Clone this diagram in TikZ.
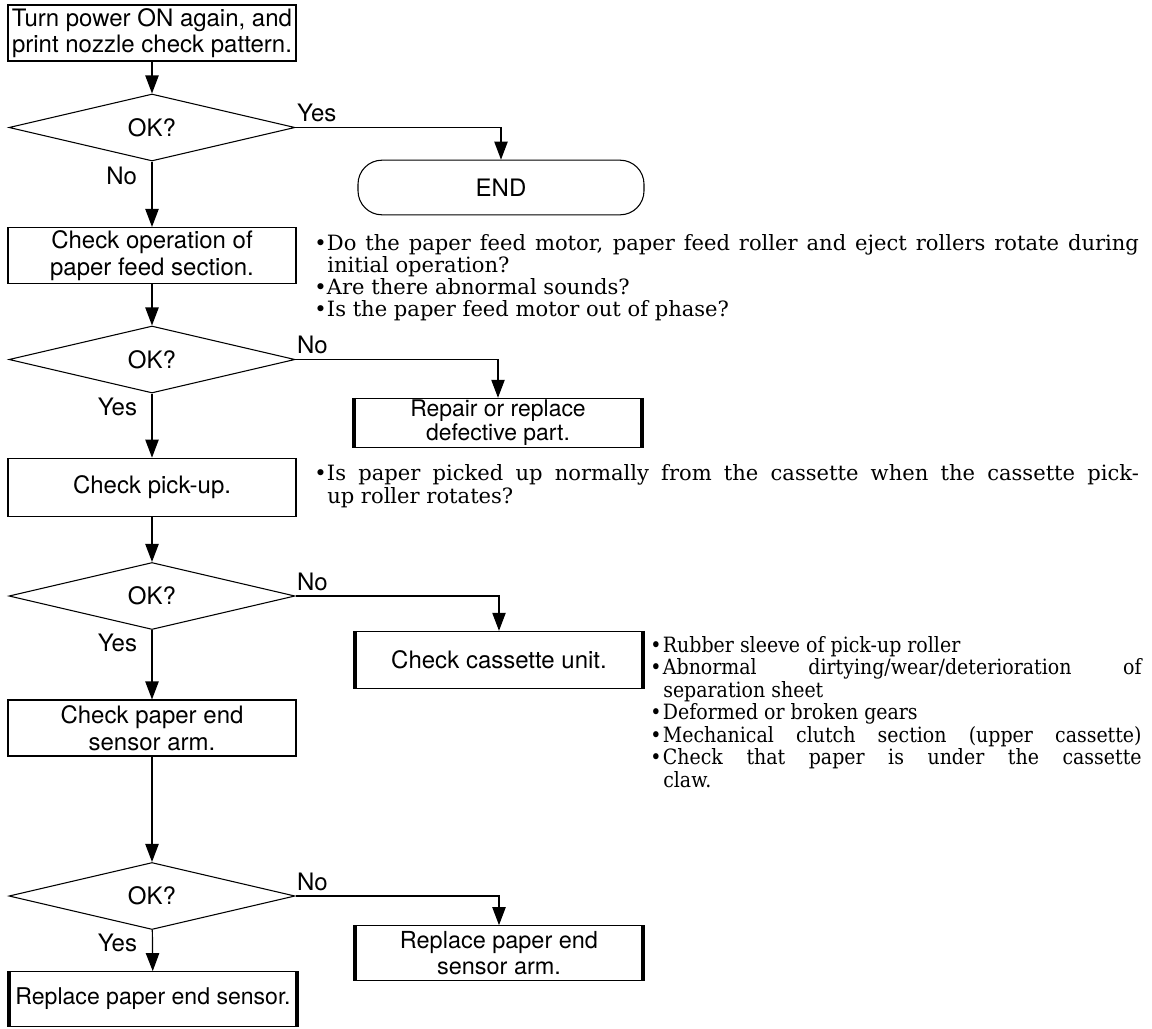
\documentclass[tikz,border=0pt]{standalone}
\usepackage{fontspec}
\setmainfont{TeX Gyre Heros}
\newfontfamily\bookf{DejaVu Serif}
\newfontfamily\bookc{DejaVu Serif}[FakeStretch=0.9]
\usetikzlibrary{shapes.geometric,arrows.meta}
\newcommand\bitem[2]{\makebox[9.5pt][l]{•}\makebox[#1][s]{#2}}
\newcommand\bnat[1]{\makebox[9.5pt][l]{•}#1}
\begin{document}
\begin{tikzpicture}[x=0.75pt,y=-0.75pt,
  sans/.style={font=\fontsize{18}{20}\selectfont},
  box/.style={draw,line width=0.8pt,minimum width=216pt,minimum height=42pt,inner sep=0pt,align=center,sans},
  rbox/.style={box,minimum width=214.5pt},
  dia/.style={diamond,draw,line width=0.8pt,minimum width=214.5pt,minimum height=50.25pt,inner sep=0pt,aspect=4.27,sans},
  term/.style={draw,line width=0.8pt,rounded corners=18pt,minimum width=214.5pt,minimum height=41pt,inner sep=0pt,sans},
  arr/.style={draw,line width=0.9pt,-{Triangle[length=13.5pt,width=10pt]}},
  bar/.style={line width=3pt},
  lab/.style={sans,inner sep=1pt},
  bl/.style={anchor=base west,inner sep=0pt,font=\bookf\fontsize{15.8}{18}\selectfont},
  bc/.style={anchor=base west,inner sep=0pt,font=\bookc\fontsize{15.8}{18}\selectfont},
]
\useasboundingbox (0,0) rectangle (1152,1028);

% left column
\node[box] (A) at (152,33) {Turn power ON again, and\\print nozzle check pattern.};
\node[dia] (D1) at (152,127.5) {OK?};
\node[term] (END) at (501,187.5) {END};
\node[box] (B) at (152,255.5) {Check operation of\\paper feed section.};
\node[dia] (D2) at (152,359.5) {OK?};
\node[rbox,minimum height=37pt,font=\fontsize{17.2}{18}\selectfont] (R) at (498,423) {Repair or replace\\defective part.};
\node[box,minimum height=44pt] (C) at (152,487.5) {Check pick-up.};
\node[dia] (D3) at (152,596) {OK?};
\node[rbox,minimum height=43pt] (K) at (499,660) {Check cassette unit.};
\node[box] (D) at (152,728) {Check paper end\\sensor arm.};
\node[dia] (D4) at (152,896) {OK?};
\node[rbox,minimum height=41pt,font=\fontsize{17.6}{19}\selectfont] (E) at (499,953) {Replace paper end\\sensor arm.};
\node[rbox,minimum height=41pt,font=\fontsize{17.3}{19}\selectfont] (F) at (153,999) {Replace paper end sensor.};

% thick side bars
\foreach \n in {R,K,E,F}{
  \draw[bar] (\n.north west) -- (\n.south west);
  \draw[bar] (\n.north east) -- (\n.south east);
}

% connectors
\draw[arr] (A) -- (D1);
\draw[arr] (D1.east) -| (END.north);
\draw[arr] (D1) -- (B);
\draw[arr] (B) -- (D2);
\draw[arr] (D2.east) -| (R.north);
\draw[arr] (D2) -- (C);
\draw[arr] (C) -- (D3);
\draw[arr] (D3.east) -| (K.north);
\draw[arr] (D3) -- (D);
\draw[arr] (D) -- (D4);
\draw[arr] (D4.east) -| (E.north);
\draw[arr] (D4) -- (F);

% branch labels
\node[lab,anchor=south west,yshift=3pt] (l1y) at (D1.east) {Yes};
\node[lab,anchor=north east,xshift=-10pt,yshift=-3pt] (l1n) at (D1.south) {No};
\node[lab,anchor=south west,yshift=3pt] (l2n) at (D2.east) {No};
\node[lab,anchor=north east,xshift=-10pt,yshift=-2pt] (l2y) at (D2.south) {Yes};
\node[lab,anchor=south west,yshift=3pt] (l3n) at (D3.east) {No};
\node[lab,anchor=north east,xshift=-10pt,yshift=-2pt] (l3y) at (D3.south) {Yes};
\node[lab,anchor=south west,yshift=3pt] (l4n) at (D4.east) {No};
\node[lab,anchor=north east,xshift=-10pt,yshift=-2pt] (l4y) at (D4.south) {Yes};

% notes
\node[bl] (n1a) at (314,250) {\bitem{609pt}{Do the paper feed motor, paper feed roller and eject rollers rotate during}};
\node[bl] (n1b) at (327,272) {initial operation?};
\node[bl] (n1c) at (314,294) {\bnat{Are there abnormal sounds?}};
\node[bl] (n1d) at (314,316) {\bnat{Is the paper feed motor out of phase?}};

\node[bl] (n2a) at (314,480) {\bitem{609pt}{Is paper picked up normally from the cassette when the cassette pick-}};
\node[bl] (n2b) at (327,503) {up roller rotates?};

\node[bc] (n3a) at (650,652) {\bnat{Rubber sleeve of pick-up roller}};
\node[bc] (n3b) at (650,674) {\bitem{359pt}{Abnormal dirtying/wear/deterioration of}};
\node[bc] (n3c) at (663,697) {separation sheet};
\node[bc] (n3d) at (650,719) {\bnat{Deformed or broken gears}};
\node[bc] (n3e) at (650,742) {\bitem{359pt}{Mechanical clutch section (upper cassette)}};
\node[bc] (n3f) at (650,764) {\bitem{359pt}{Check that paper is under the cassette}};
\node[bc] (n3g) at (663,787) {claw.};
\end{tikzpicture}
\end{document}
